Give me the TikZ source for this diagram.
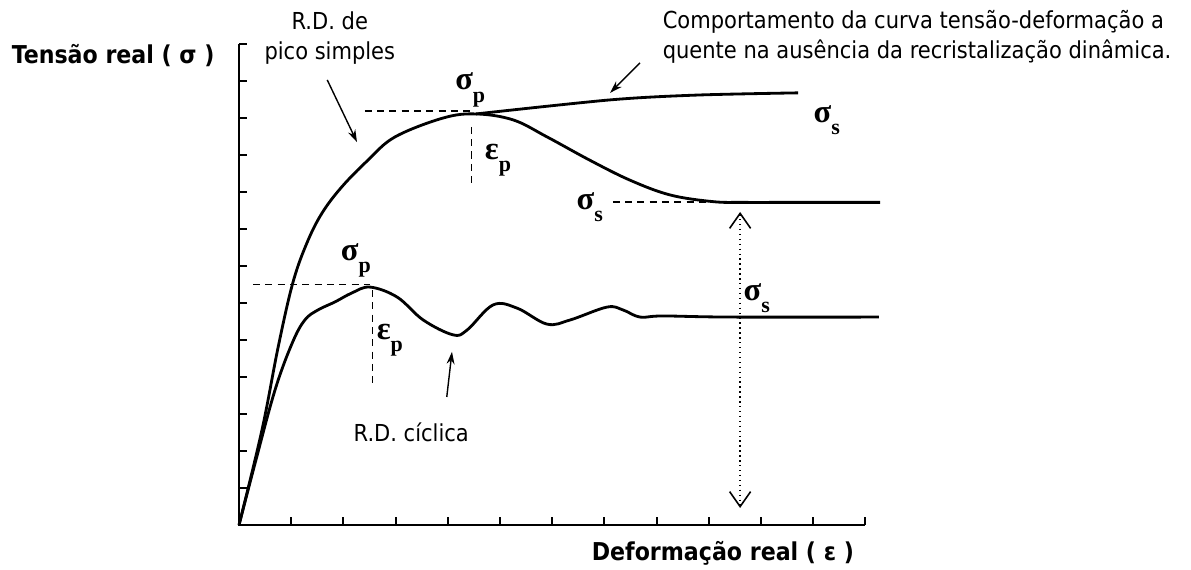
\documentclass[tikz,border=0pt]{standalone}
\usepackage{fontspec}
\setmainfont{DejaVu Sans Condensed}
\newfontfamily\greekserif{Liberation Serif}
\newcommand{\lowsub}[1]{\raisebox{-7pt}{\fontsize{12.5}{12.5}\selectfont\bfseries #1}}
\usetikzlibrary{arrows.meta}

\begin{document}
\begin{tikzpicture}[x=1.044cm, y=0.74cm,
    curve/.style={line width=1.6pt, line join=round},
    guide/.style={line width=0.7pt, dash pattern=on 4pt off 3pt},
    pointer/.style={-{Stealth[length=7pt, width=4.5pt]}, line width=0.8pt},
    sym/.style={font=\fontsize{18.5}{19}\selectfont\greekserif\bfseries, inner sep=0pt},
    txt/.style={font=\fontsize{13.3}{17}\selectfont, align=center},
    axlabel/.style={font=\fontsize{14}{16}\selectfont\bfseries}]

\useasboundingbox (-4.579, -1.216) rectangle (18.238, 14.19);

% axes
\draw[line width=1.3pt] (0, 13) -- (0, 0) -- (12, 0);
\foreach \i in {1,...,12} \draw[line width=1.1pt] (\i, 0) -- (\i, 0.22);
\foreach \j in {1,...,13} \draw[line width=1.1pt] (0, \j) -- (0.15, \j);

\node[axlabel, anchor=east] (tensao) at (-0.35, 12.7) {Tensão real ( σ )};
\node[axlabel, anchor=east] (deform) at (11.9, -0.76) {Deformação real ( ε )};

% curves
\draw[curve] plot[smooth, tension=0.6] coordinates {(0, 0) (0.44, 2.57)
    (0.75, 4.81) (1.03, 6.54) (1.30, 7.62) (1.59, 8.43) (1.97, 9.14)
    (2.47, 9.86) (2.99, 10.49) (3.91, 11.0) (4.54, 11.11) (5.25, 10.95)
    (5.90, 10.49) (6.72, 9.86) (7.49, 9.32) (8.26, 8.92) (9.08, 8.74)
    (9.66, 8.72) (10.6, 8.72) (12.28, 8.72)};
\draw[curve] plot[smooth, tension=0.5] coordinates {(4.54, 11.11)
    (7.11, 11.49) (8.77, 11.62) (10.71, 11.68)};
\draw[curve] plot[smooth, tension=0.6] coordinates {(0, 0) (0.31, 1.68)
    (0.69, 3.65) (1.02, 4.92) (1.26, 5.54) (1.51, 5.81) (1.84, 6.03)
    (2.16, 6.27) (2.51, 6.43) (3.03, 6.16) (3.53, 5.54) (4.10, 5.14)
    (4.37, 5.27) (4.87, 5.95) (5.33, 5.86) (5.90, 5.43) (6.34, 5.54)
    (7.05, 5.89) (7.36, 5.81) (7.68, 5.62) (8.12, 5.65) (9.41, 5.62)
    (12.26, 5.62)};

% peak and steady state guides
\draw[guide] (2.41, 11.19) -- (4.43, 11.19);
\draw[guide] (4.46, 10.76) -- (4.46, 9.19);
\draw[guide] (0.27, 6.51) -- (2.51, 6.51);
\draw[guide] (2.55, 6.35) -- (2.55, 3.70);
\draw[guide] (7.16, 8.73) -- (9.16, 8.73);

\node[sym] (sigp1) at (4.43, 11.76) {σ\lowsub{p}};
\node[sym] (epsp1) at (4.96, 9.86) {ε\lowsub{p}};
\node[sym] (sigs1) at (11.26, 10.95) {σ\lowsub{s}};
\node[sym] (sigs2) at (6.72, 8.59) {σ\lowsub{s}};
\node[sym] (sigp2) at (2.24, 7.16) {σ\lowsub{p}};
\node[sym] (epsp2) at (2.89, 5.0) {ε\lowsub{p}};
\node[sym] (sigs3) at (9.92, 6.14) {σ\lowsub{s}};

% difference of steady states
\coordinate (ssTop) at (9.60, 8.46);
\coordinate (ssBot) at (9.60, 0.46);
\draw[dotted, line width=0.8pt,
    {Straight Barb[length=0.3cm, width=0.42cm, line width=0.9pt]}-{Straight Barb[length=0.3cm, width=0.42cm, line width=0.9pt]}]
    (ssTop) -- (ssBot);

% notes
\node[txt] (pico) at (1.74, 13.16) {R.D. de\\pico simples};
\coordinate (picoFrom) at (1.69, 12.03);
\coordinate (picoTo) at (2.26, 10.35);
\draw[pointer] (picoFrom) -- (picoTo);

\node[txt, align=left, anchor=west] (semrd) at (8.0, 13.19)
    {Comportamento da curva tensão-deformação a\\quente na ausência da recristalização dinâmica.};
\coordinate (semFrom) at (7.68, 12.49);
\coordinate (semTo) at (7.11, 11.68);
\draw[pointer] (semFrom) -- (semTo);

\node[txt] (ciclica) at (3.30, 2.51) {R.D. cíclica};
\coordinate (cicFrom) at (3.98, 3.46);
\coordinate (cicTo) at (4.08, 4.68);
\draw[pointer] (cicFrom) -- (cicTo);

\end{tikzpicture}
\end{document}
